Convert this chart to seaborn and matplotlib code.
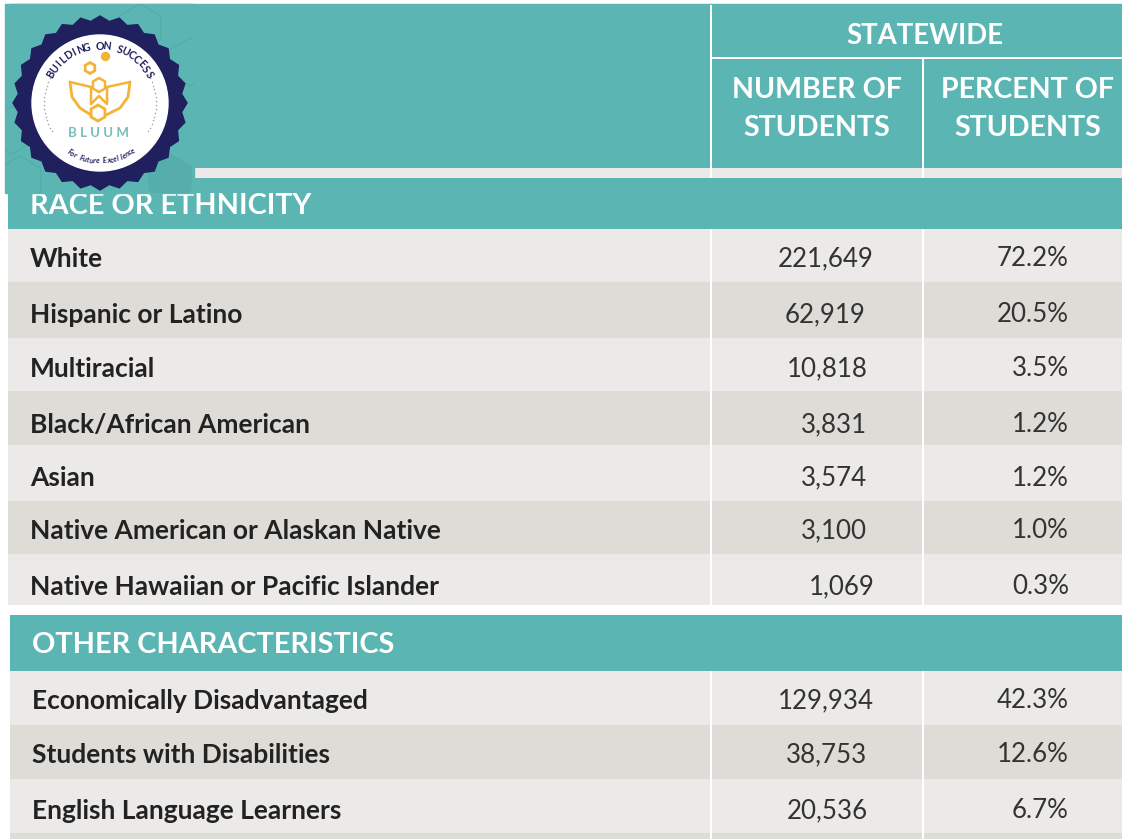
# Student demographics table, statewide numbers

import numpy as np
import matplotlib
matplotlib.use("Agg")
import matplotlib.pyplot as plt
from matplotlib.colors import ListedColormap
from matplotlib.patches import Circle, Polygon, Rectangle, RegularPolygon
import seaborn as sns

# Table contents
race_labels = ["White", "Hispanic or Latino", "Multiracial", "Black/African American",
               "Asian", "Native American or Alaskan Native",
               "Native Hawaiian or Pacific Islander"]
race_numbers = ["221,649", "62,919", "10,818", "3,831", "3,574", "3,100", "1,069"]
race_percents = ["72.2%", "20.5%", "3.5%", "1.2%", "1.2%", "1.0%", "0.3%"]

other_labels = ["Economically Disadvantaged", "Students with Disabilities",
                "English Language Learners"]
other_numbers = ["129,934", "38,753", "20,536"]
other_percents = ["42.3%", "12.6%", "6.7%"]

# Layout in pixels of the 1122x839 picture
W, H = 1122, 839
race_edges = [229, 282, 338, 391, 445, 501, 554, 605]
other_edges = [671, 725, 779, 833, 839]
race_y = [259, 315, 369, 425, 478, 531, 587]
other_y = [701, 755, 811]
race_right = [874, 866, 868, 867, 867, 867, 875]
other_right = [874, 867, 868]

TEAL, LIGHT, DARK, WHITE = 0, 1, 2, 3
colors = ["#5bb6b3", "#ebeae8", "#dedcd7", "#ffffff"]
NAVY = "#20205f"
GOLD = "#f5b335"

# Build the cell grid, one cell per pixel
grid = np.full((H, W), WHITE)
grid[3:4, 10:] = LIGHT
grid[4:168, 5:] = TEAL
grid[168:178, 8:] = LIGHT
grid[178:229, 8:] = TEAL
for i in range(len(race_labels)):
    grid[race_edges[i]:race_edges[i + 1], 8:] = DARK if i % 2 else LIGHT
grid[615:671, 10:] = TEAL
for i in range(len(other_edges) - 1):
    grid[other_edges[i]:other_edges[i + 1], 10:] = DARK if i % 2 else LIGHT

# White column rules
for top, bottom in [(5, 178), (229, 605), (671, 839)]:
    grid[top:bottom, 710:712] = WHITE
for top, bottom in [(58, 178), (229, 605), (671, 839)]:
    grid[top:bottom, 922:924] = WHITE
grid[57:59, 712:] = WHITE

sns.set_theme(style="white")
plt.rcParams["font.family"] = ["Lato", "DejaVu Sans"]

fig = plt.figure(figsize=(W / 100, H / 100), dpi=100)
ax = fig.add_axes([0, 0, 1, 1])
sns.heatmap(grid, ax=ax, cmap=ListedColormap(colors), vmin=0, vmax=3, cbar=False,
            xticklabels=False, yticklabels=False, rasterized=True)

# Column headers
head = dict(color="white", fontweight="bold", ha="center", va="center", fontsize=20.6)
ax.text(925, 36.5, "STATEWIDE", **{**head, "fontsize": 19.8})
ax.text(817, 90, "NUMBER OF", **head)
ax.text(817, 128, "STUDENTS", **head)
ax.text(1028, 90, "PERCENT OF", **head)
ax.text(1028, 128, "STUDENTS", **head)
ax.text(30, 206, "RACE OR ETHNICITY", color="white", fontweight="bold", va="center", fontsize=20.8)
ax.text(32, 645, "OTHER CHARACTERISTICS", color="white", fontweight="bold", va="center", fontsize=20.8)

# Table rows
def draw_rows(labels, numbers, percents, ys, rights, left):
    for label, num, pct, y, right in zip(labels, numbers, percents, ys, rights):
        ax.text(left, y, label, color="#222222", fontweight="bold", va="center", fontsize=19)
        ax.text(right, y, num, color="#333333", ha="right", va="center", fontsize=18.6)
        ax.text(1069, y, pct, color="#333333", ha="right", va="center", fontsize=18.6)

draw_rows(race_labels, race_numbers, race_percents, race_y, race_right, 30)
draw_rows(other_labels, other_numbers, other_percents, other_y, other_right, 32)

# Logo badge over the corner of the table
cx, cy = 100, 103
panel = Rectangle((5, 4), 189, 189, color=colors[TEAL], zorder=5)
ax.add_patch(panel)
for hx, hy, fill in [(170, 178, "#55aeab"), (20, 180, "none"), (140, 28, "none"),
                     (190, 62, "none"), (12, 130, "none")]:
    hexagon = RegularPolygon((hx, hy), 6, radius=24, facecolor=fill,
                             edgecolor="#52aca9", lw=0.8, zorder=5.1)
    ax.add_patch(hexagon)
    hexagon.set_clip_path(panel)

n_teeth = 28
angles = np.linspace(0, 2 * np.pi, n_teeth * 2, endpoint=False)
radii = np.where(np.arange(n_teeth * 2) % 2 == 0, 87, 82)
ax.add_patch(Polygon(np.c_[cx + radii * np.cos(angles), cy + radii * np.sin(angles)],
                     color=NAVY, zorder=6))
ax.add_patch(Circle((cx, cy), 68, color="white", zorder=7))

def arc_text(text, radius, start, end, size, color, style="normal", weight="bold", bottom=False):
    for ch, deg in zip(text, np.linspace(start, end, len(text))):
        a = np.radians(deg)
        rot = deg + 90 if bottom else deg - 90
        ax.text(cx + radius * np.cos(a), cy - radius * np.sin(a), ch, rotation=rot,
                rotation_mode="anchor", ha="center", va="center", fontsize=size,
                color=color, fontweight=weight, style=style, zorder=8)

arc_text("BUILDING ON SUCCESS", 57, 150, 30, 7.6, NAVY)
arc_text("For Future Excellence", 58, 238, 305, 5.4, NAVY, style="italic", bottom=True)

# Dotted side arcs
for side in (np.linspace(150, 210, 16), np.linspace(-30, 30, 16)):
    a = np.radians(side)
    ax.scatter(cx + 56 * np.cos(a), cy + 56 * np.sin(a), s=1.2, color="#9aa3b5", zorder=8, linewidths=0)

# Bee icon
ax.add_patch(Circle((105.5, 56.5), 4, color=GOLD, zorder=8))
ax.add_patch(RegularPolygon((90, 68), 6, radius=5.5, fill=False, ec=GOLD, lw=2, zorder=8))
ax.add_patch(RegularPolygon((98, 113), 6, radius=8, fill=False, ec=GOLD, lw=2, zorder=8))
ax.add_patch(RegularPolygon((99, 85), 6, radius=7, fill=False, ec=GOLD, lw=1.8, zorder=8))
ax.plot([70, 91, 91, 99, 107, 107, 130], [82, 87, 104, 96, 104, 87, 82], color=GOLD, lw=1.8, zorder=8)
ax.plot([70, 72, 80, 91], [82, 97, 108, 115], color=GOLD, lw=2, zorder=8)
ax.plot([130, 128, 120, 106], [82, 97, 108, 115], color=GOLD, lw=2, zorder=8)
ax.text(99, 133, "B L U U M", color="#77bdb9", fontweight="bold", ha="center", va="center",
        fontsize=9.5, zorder=8)

fig.savefig("out.png", dpi=100)
